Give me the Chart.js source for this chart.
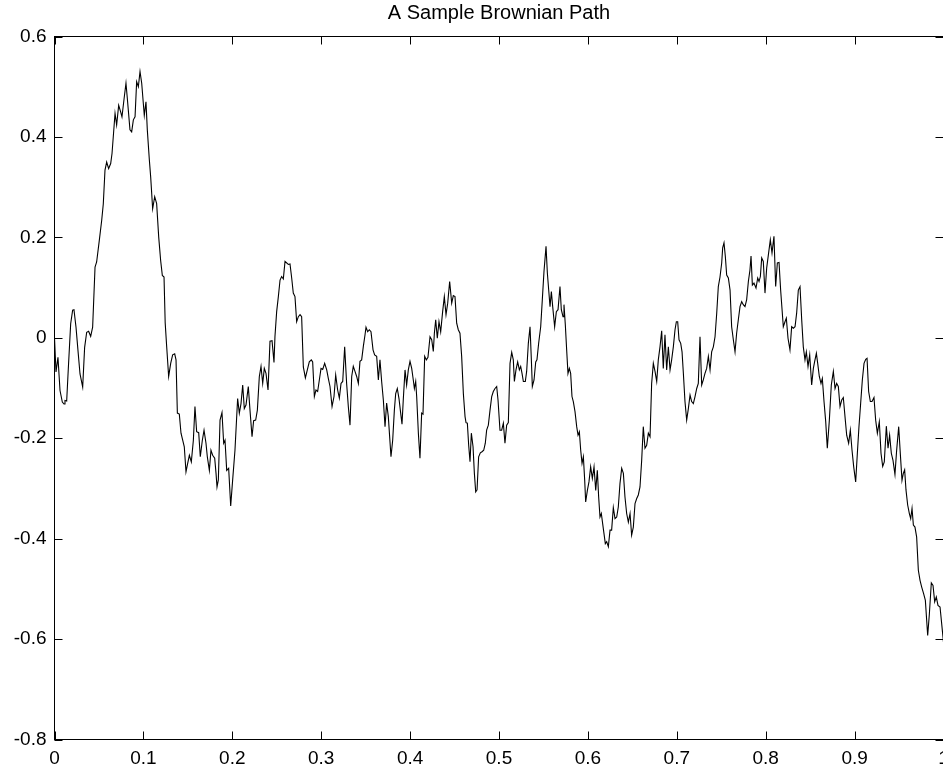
<!DOCTYPE html>
<html lang="en">
<head>
    <meta charset="UTF-8">
    <title>A Sample Brownian Path</title>
    <script src="https://cdn.jsdelivr.net/npm/chart.js"></script>
    <style>
        html, body {
            margin: 0;
            padding: 0;
            overflow: hidden;
            background: #ffffff;
        }
        #wrap {
            width: 950px;
            height: 769px;
        }
    </style>
</head>
<body>
    <div id="wrap"><canvas id="pathChart" width="950" height="769"></canvas></div>

    <script>
        const chartTitle = 'A Sample Brownian Path';

        // time values
        const pathT = [
            0.0000, 0.0017, 0.0039, 0.0062, 0.0088, 0.0107, 0.0118, 0.0137, 0.0156, 0.0182,
            0.0204, 0.0219, 0.0242, 0.0264, 0.0287, 0.0317, 0.0339, 0.0362, 0.0384, 0.0407,
            0.0429, 0.0456, 0.0474, 0.0504, 0.0531, 0.0549, 0.0568, 0.0587, 0.0609, 0.0632,
            0.0647, 0.0681, 0.0699, 0.0722, 0.0744, 0.0759, 0.0782, 0.0804, 0.0819, 0.0849,
            0.0868, 0.0887, 0.0906, 0.0924, 0.0943, 0.0962, 0.0981, 0.0999, 0.1010, 0.1029,
            0.1044, 0.1067, 0.1082, 0.1104, 0.1127, 0.1149, 0.1172, 0.1194, 0.1213, 0.1232,
            0.1245, 0.1262, 0.1284, 0.1307, 0.1329, 0.1352, 0.1367, 0.1382, 0.1404, 0.1423,
            0.1442, 0.1460, 0.1479, 0.1498, 0.1517, 0.1539, 0.1562, 0.1580, 0.1599, 0.1622,
            0.1640, 0.1663, 0.1682, 0.1704, 0.1719, 0.1742, 0.1760, 0.1779, 0.1802, 0.1817,
            0.1828, 0.1843, 0.1862, 0.1884, 0.1903, 0.1918, 0.1937, 0.1959, 0.1982, 0.2004,
            0.2030, 0.2060, 0.2079, 0.2098, 0.2117, 0.2135, 0.2154, 0.2180, 0.2199, 0.2222,
            0.2240, 0.2263, 0.2282, 0.2304, 0.2323, 0.2342, 0.2360, 0.2379, 0.2402, 0.2424,
            0.2447, 0.2469, 0.2480, 0.2499, 0.2518, 0.2537, 0.2555, 0.2574, 0.2593, 0.2612,
            0.2630, 0.2649, 0.2668, 0.2686, 0.2705, 0.2724, 0.2743, 0.2762, 0.2780, 0.2799,
            0.2822, 0.2844, 0.2866, 0.2889, 0.2904, 0.2923, 0.2941, 0.2960, 0.2979, 0.2998,
            0.3017, 0.3039, 0.3062, 0.3080, 0.3099, 0.3122, 0.3144, 0.3163, 0.3185, 0.3204,
            0.3223, 0.3242, 0.3264, 0.3286, 0.3305, 0.3324, 0.3343, 0.3361, 0.3380, 0.3399,
            0.3418, 0.3436, 0.3455, 0.3474, 0.3493, 0.3504, 0.3523, 0.3541, 0.3560, 0.3583,
            0.3601, 0.3624, 0.3643, 0.3661, 0.3680, 0.3699, 0.3718, 0.3736, 0.3755, 0.3785,
            0.3804, 0.3823, 0.3838, 0.3856, 0.3875, 0.3894, 0.3909, 0.3924, 0.3943, 0.3961,
            0.3980, 0.3999, 0.4018, 0.4036, 0.4048, 0.4063, 0.4074, 0.4093, 0.4111, 0.4130,
            0.4145, 0.4164, 0.4183, 0.4201, 0.4224, 0.4243, 0.4261, 0.4273, 0.4288, 0.4306,
            0.4325, 0.4344, 0.4366, 0.4385, 0.4404, 0.4423, 0.4445, 0.4468, 0.4486, 0.4505,
            0.4524, 0.4542, 0.4561, 0.4580, 0.4599, 0.4618, 0.4629, 0.4644, 0.4659, 0.4674,
            0.4689, 0.4708, 0.4723, 0.4738, 0.4753, 0.4771, 0.4790, 0.4809, 0.4828, 0.4846,
            0.4861, 0.4880, 0.4899, 0.4918, 0.4936, 0.4955, 0.4974, 0.4989, 0.5011, 0.5030,
            0.5049, 0.5067, 0.5086, 0.5105, 0.5124, 0.5143, 0.5161, 0.5173, 0.5191, 0.5210,
            0.5229, 0.5244, 0.5259, 0.5274, 0.5296, 0.5311, 0.5330, 0.5349, 0.5364, 0.5375,
            0.5394, 0.5413, 0.5427, 0.5446, 0.5469, 0.5487, 0.5506, 0.5529, 0.5544, 0.5559,
            0.5574, 0.5589, 0.5604, 0.5626, 0.5645, 0.5664, 0.5686, 0.5701, 0.5720, 0.5731,
            0.5746, 0.5761, 0.5776, 0.5791, 0.5806, 0.5821, 0.5836, 0.5855, 0.5874, 0.5889,
            0.5904, 0.5919, 0.5934, 0.5949, 0.5964, 0.5975, 0.5994, 0.6012, 0.6031, 0.6050,
            0.6069, 0.6088, 0.6106, 0.6121, 0.6136, 0.6151, 0.6166, 0.6181, 0.6196, 0.6211,
            0.6230, 0.6249, 0.6267, 0.6286, 0.6305, 0.6324, 0.6342, 0.6361, 0.6380, 0.6399,
            0.6417, 0.6436, 0.6455, 0.6474, 0.6492, 0.6511, 0.6530, 0.6549, 0.6567, 0.6586,
            0.6605, 0.6623, 0.6642, 0.6661, 0.6680, 0.6699, 0.6717, 0.6736, 0.6755, 0.6774,
            0.6792, 0.6811, 0.6830, 0.6848, 0.6867, 0.6886, 0.6905, 0.6924, 0.6942, 0.6961,
            0.6980, 0.6995, 0.7010, 0.7025, 0.7044, 0.7059, 0.7074, 0.7092, 0.7111, 0.7130,
            0.7149, 0.7167, 0.7186, 0.7205, 0.7224, 0.7242, 0.7261, 0.7280, 0.7298, 0.7317,
            0.7336, 0.7355, 0.7374, 0.7392, 0.7411, 0.7430, 0.7449, 0.7467, 0.7486, 0.7505,
            0.7516, 0.7531, 0.7546, 0.7561, 0.7580, 0.7599, 0.7617, 0.7636, 0.7655, 0.7673,
            0.7692, 0.7711, 0.7730, 0.7748, 0.7767, 0.7786, 0.7805, 0.7823, 0.7835, 0.7850,
            0.7868, 0.7891, 0.7910, 0.7925, 0.7940, 0.7955, 0.7973, 0.7992, 0.8011, 0.8030,
            0.8052, 0.8071, 0.8093, 0.8112, 0.8131, 0.8150, 0.8168, 0.8187, 0.8198, 0.8217,
            0.8232, 0.8251, 0.8273, 0.8292, 0.8311, 0.8330, 0.8348, 0.8367, 0.8386, 0.8405,
            0.8423, 0.8442, 0.8457, 0.8476, 0.8495, 0.8517, 0.8536, 0.8551, 0.8570, 0.8585,
            0.8603, 0.8622, 0.8637, 0.8656, 0.8675, 0.8693, 0.8716, 0.8738, 0.8761, 0.8780,
            0.8798, 0.8817, 0.8836, 0.8855, 0.8873, 0.8892, 0.8911, 0.8933, 0.8952, 0.8971,
            0.8990, 0.9012, 0.9031, 0.9049, 0.9068, 0.9087, 0.9106, 0.9125, 0.9140, 0.9158,
            0.9177, 0.9196, 0.9218, 0.9237, 0.9256, 0.9278, 0.9297, 0.9316, 0.9334, 0.9357,
            0.9376, 0.9394, 0.9413, 0.9432, 0.9454, 0.9473, 0.9496, 0.9514, 0.9533, 0.9548,
            0.9563, 0.9578, 0.9597, 0.9616, 0.9631, 0.9646, 0.9661, 0.9679, 0.9698, 0.9717,
            0.9736, 0.9754, 0.9777, 0.9796, 0.9822, 0.9841, 0.9863, 0.9882, 0.9901, 0.9919,
            0.9938, 0.9961, 1.0000
        ];

        // path values at those times
        const pathW = [
            0.000, -0.068, -0.039, -0.105, -0.128, -0.132, -0.125, -0.126, -0.059, 0.028,
            0.055, 0.056, 0.021, -0.025, -0.072, -0.098, -0.019, 0.011, 0.013, 0.003,
            0.021, 0.141, 0.151, 0.194, 0.234, 0.267, 0.334, 0.350, 0.337, 0.347,
            0.367, 0.447, 0.424, 0.463, 0.450, 0.440, 0.475, 0.507, 0.477, 0.414,
            0.410, 0.434, 0.440, 0.510, 0.500, 0.530, 0.507, 0.467, 0.443, 0.470,
            0.414, 0.354, 0.320, 0.257, 0.281, 0.267, 0.201, 0.154, 0.124, 0.121,
            0.030, -0.018, -0.077, -0.051, -0.034, -0.032, -0.044, -0.150, -0.152, -0.190,
            -0.204, -0.217, -0.267, -0.250, -0.234, -0.247, -0.204, -0.137, -0.187, -0.189,
            -0.237, -0.204, -0.184, -0.210, -0.237, -0.264, -0.224, -0.234, -0.240, -0.270,
            -0.297, -0.283, -0.164, -0.149, -0.210, -0.204, -0.264, -0.260, -0.335, -0.283,
            -0.224, -0.121, -0.150, -0.131, -0.094, -0.141, -0.134, -0.097, -0.144, -0.197,
            -0.165, -0.164, -0.144, -0.077, -0.057, -0.091, -0.061, -0.071, -0.104, -0.007,
            -0.006, -0.049, 0.003, 0.052, 0.082, 0.115, 0.122, 0.117, 0.152, 0.149,
            0.146, 0.147, 0.119, 0.089, 0.082, 0.032, 0.042, 0.046, 0.042, -0.058,
            -0.080, -0.064, -0.048, -0.044, -0.048, -0.117, -0.104, -0.107, -0.084, -0.061,
            -0.063, -0.051, -0.064, -0.081, -0.097, -0.137, -0.117, -0.074, -0.104, -0.120,
            -0.091, -0.087, -0.018, -0.091, -0.137, -0.174, -0.077, -0.057, -0.067, -0.077,
            -0.091, -0.047, -0.044, -0.017, 0.006, 0.021, 0.012, 0.016, 0.012, -0.024,
            -0.034, -0.037, -0.084, -0.044, -0.087, -0.124, -0.177, -0.130, -0.157, -0.237,
            -0.204, -0.144, -0.111, -0.101, -0.121, -0.150, -0.172, -0.121, -0.064, -0.094,
            -0.064, -0.047, -0.061, -0.084, -0.101, -0.087, -0.117, -0.190, -0.240, -0.150,
            -0.152, -0.037, -0.044, -0.039, 0.002, -0.004, -0.027, 0.009, 0.036, -0.001,
            0.032, 0.012, 0.052, 0.082, 0.046, 0.069, 0.112, 0.069, 0.084, 0.082,
            0.029, 0.016, 0.009, -0.037, -0.111, -0.157, -0.169, -0.170, -0.214, -0.247,
            -0.190, -0.217, -0.270, -0.307, -0.303, -0.237, -0.229, -0.227, -0.224, -0.210,
            -0.184, -0.174, -0.144, -0.117, -0.107, -0.101, -0.097, -0.124, -0.184, -0.184,
            -0.170, -0.210, -0.174, -0.169, -0.051, -0.029, -0.044, -0.087, -0.064, -0.048,
            -0.064, -0.057, -0.071, -0.087, -0.087, -0.067, -0.011, 0.022, -0.044, -0.097,
            -0.084, -0.048, -0.044, -0.011, 0.022, 0.075, 0.132, 0.182, 0.129, 0.095,
            0.062, 0.092, 0.062, 0.022, 0.052, 0.056, 0.102, 0.056, 0.042, 0.066,
            0.026, -0.024, -0.071, -0.061, -0.071, -0.117, -0.127, -0.147, -0.177, -0.194,
            -0.187, -0.224, -0.250, -0.237, -0.284, -0.327, -0.304, -0.287, -0.257, -0.280,
            -0.257, -0.304, -0.264, -0.317, -0.357, -0.350, -0.370, -0.390, -0.410, -0.406,
            -0.416, -0.383, -0.383, -0.338, -0.360, -0.357, -0.337, -0.290, -0.260, -0.270,
            -0.317, -0.350, -0.367, -0.350, -0.393, -0.377, -0.330, -0.320, -0.313, -0.297,
            -0.244, -0.177, -0.220, -0.214, -0.190, -0.197, -0.091, -0.051, -0.067, -0.087,
            -0.044, -0.018, 0.014, -0.061, 0.006, -0.064, -0.018, -0.064, -0.044, -0.018,
            0.016, 0.032, 0.032, -0.004, -0.011, -0.028, -0.071, -0.127, -0.164, -0.141,
            -0.114, -0.127, -0.131, -0.117, -0.101, -0.091, 0.002, -0.094, -0.084, -0.071,
            -0.061, -0.037, -0.064, -0.028, -0.018, 0.002, 0.049, 0.102, 0.121, 0.149,
            0.179, 0.189, 0.162, 0.125, 0.119, 0.095, 0.022, -0.004, -0.028, 0.009,
            0.036, 0.062, 0.072, 0.066, 0.062, 0.076, 0.112, 0.135, 0.163, 0.105,
            0.109, 0.099, 0.119, 0.112, 0.122, 0.159, 0.152, 0.089, 0.139, 0.165,
            0.195, 0.169, 0.202, 0.102, 0.149, 0.150, 0.095, 0.049, 0.022, 0.032,
            0.039, -0.001, -0.024, 0.022, 0.019, 0.022, 0.049, 0.095, 0.102, 0.036,
            -0.018, -0.044, -0.028, -0.057, -0.034, -0.094, -0.061, -0.047, -0.031, -0.051,
            -0.077, -0.091, -0.081, -0.127, -0.167, -0.220, -0.164, -0.094, -0.067, -0.101,
            -0.091, -0.097, -0.137, -0.124, -0.119, -0.157, -0.194, -0.210, -0.184, -0.224,
            -0.257, -0.287, -0.230, -0.177, -0.131, -0.084, -0.051, -0.043, -0.041, -0.107,
            -0.127, -0.127, -0.119, -0.164, -0.190, -0.167, -0.230, -0.256, -0.247, -0.176,
            -0.220, -0.194, -0.230, -0.244, -0.272, -0.224, -0.177, -0.230, -0.284, -0.270,
            -0.263, -0.303, -0.333, -0.350, -0.360, -0.340, -0.373, -0.377, -0.397, -0.463,
            -0.483, -0.496, -0.510, -0.523, -0.593, -0.550, -0.488, -0.493, -0.526, -0.516,
            -0.533, -0.536, -0.606
        ];

        const xTicks = [0, 0.1, 0.2, 0.3, 0.4, 0.5, 0.6, 0.7, 0.8, 0.9, 1];
        const xTickLabels = ['0', '0.1', '0.2', '0.3', '0.4', '0.5', '0.6', '0.7', '0.8', '0.9', '1'];
        const yTicks = [-0.8, -0.6, -0.4, -0.2, 0, 0.2, 0.4, 0.6];
        const yTickLabels = ['-0.8', '-0.6', '-0.4', '-0.2', '0', '0.2', '0.4', '0.6'];

        const fontFamily = "'Liberation Sans', Arial, Helvetica, sans-serif";

        // matlab style box with inward ticks on all four sides
        const boxPlugin = {
            id: 'boxTicks',
            afterDraw(chart) {
                const ctx = chart.ctx;
                const area = chart.chartArea;
                const xs = chart.scales.x;
                const ys = chart.scales.y;
                const len = 8;
                ctx.save();
                ctx.strokeStyle = '#000000';
                ctx.lineWidth = 1;
                ctx.beginPath();
                xTicks.forEach(v => {
                    const px = Math.round(xs.getPixelForValue(v)) + 0.5;
                    ctx.moveTo(px, area.bottom);
                    ctx.lineTo(px, area.bottom - len);
                    ctx.moveTo(px, area.top);
                    ctx.lineTo(px, area.top + len);
                });
                yTicks.forEach(v => {
                    const py = Math.round(ys.getPixelForValue(v)) + 0.5;
                    ctx.moveTo(area.left, py);
                    ctx.lineTo(area.left + len, py);
                    ctx.moveTo(area.right, py);
                    ctx.lineTo(area.right - len, py);
                });
                ctx.stroke();
                ctx.strokeRect(area.left, area.top, area.right - area.left, area.bottom - area.top);
                ctx.restore();
            }
        };

        const ctx = document.getElementById('pathChart').getContext('2d');
        const chart = new Chart(ctx, {
            type: 'line',
            data: {
                datasets: [{
                    label: 'W(t)',
                    data: pathT.map((t, i) => ({ x: t, y: pathW[i] })),
                    borderColor: '#000000',
                    borderWidth: 1.1,
                    pointRadius: 0,
                    tension: 0,
                    fill: false
                }]
            },
            options: {
                responsive: false,
                animation: false,
                devicePixelRatio: 1,
                layout: { padding: { left: 0, right: 6.5, top: 0, bottom: 0 } },
                plugins: {
                    legend: { display: false },
                    tooltip: { enabled: false },
                    title: {
                        display: true,
                        text: chartTitle,
                        fullSize: false,
                        color: '#000000',
                        font: { family: fontFamily, size: 20, weight: 'normal', lineHeight: 1.2 },
                        padding: { top: 1, bottom: 11.5 }
                    }
                },
                scales: {
                    x: {
                        type: 'linear',
                        min: 0,
                        max: 1,
                        afterBuildTicks: (scale) => { scale.ticks = xTicks.map(v => ({ value: v })); },
                        afterFit: (scale) => {
                            scale.height = 29.5;
                            scale.paddingLeft = 0;
                            scale.paddingRight = 0;
                        },
                        grid: { display: false, drawTicks: false },
                        border: { display: false },
                        ticks: {
                            color: '#000000',
                            padding: 8,
                            maxRotation: 0,
                            autoSkip: false,
                            font: { family: fontFamily, size: 19 },
                            callback: (value, index) => xTickLabels[index]
                        }
                    },
                    y: {
                        type: 'linear',
                        min: -0.8,
                        max: 0.6,
                        afterBuildTicks: (scale) => { scale.ticks = yTicks.map(v => ({ value: v })); },
                        afterFit: (scale) => {
                            scale.width = 54.5;
                            scale.paddingTop = 0;
                            scale.paddingBottom = 0;
                        },
                        grid: { display: false, drawTicks: false },
                        border: { display: false },
                        ticks: {
                            color: '#000000',
                            padding: 8,
                            autoSkip: false,
                            font: { family: fontFamily, size: 19 },
                            callback: (value, index) => yTickLabels[index]
                        }
                    }
                }
            },
            plugins: [boxPlugin]
        });
    </script>
</body>
</html>
